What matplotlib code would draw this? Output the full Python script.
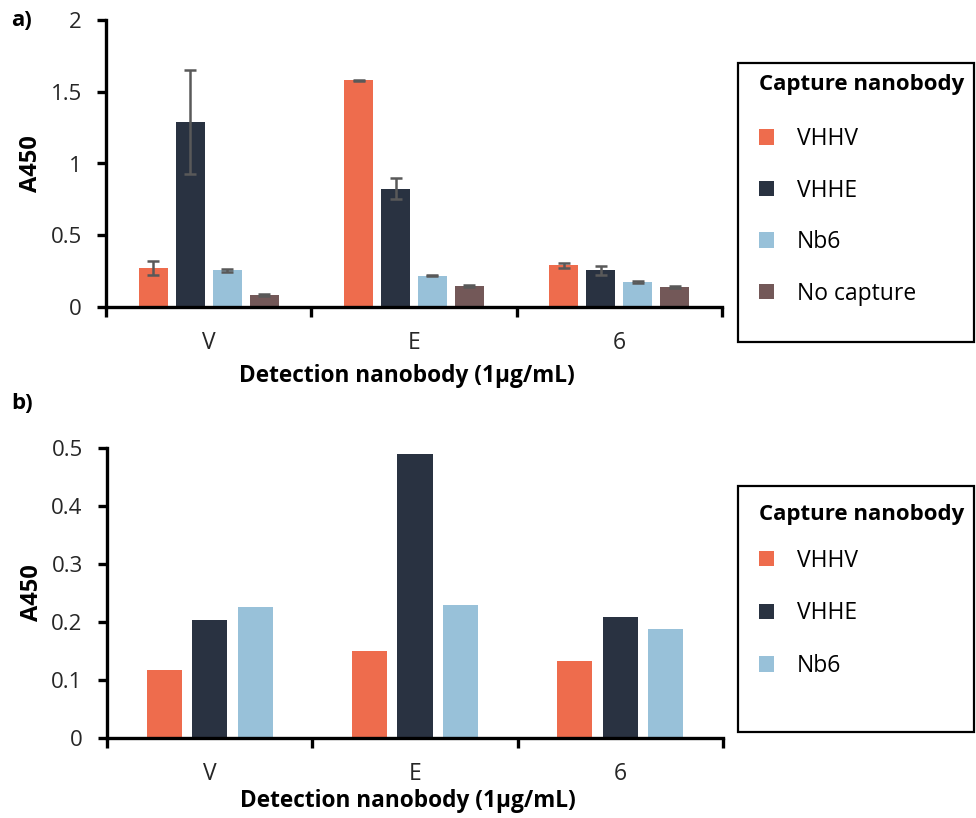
import matplotlib
matplotlib.use("Agg")
import matplotlib.pyplot as plt
import numpy as np
from matplotlib.patches import Rectangle, Patch

plt.rcParams['font.family'] = ['Open Sans', 'DejaVu Sans']

categories = ["V", "E", "6"]

# Panel a
series_a = ["VHHV", "VHHE", "Nb6", "No capture"]
vals_a = {
    "VHHV": [0.27, 1.58, 0.29],
    "VHHE": [1.29, 0.825, 0.255],
    "Nb6": [0.255, 0.218, 0.175],
    "No capture": [0.085, 0.148, 0.139],
}
err_a = {
    "VHHV": [0.05, 0.005, 0.018],
    "VHHE": [0.365, 0.073, 0.029],
    "Nb6": [0.01, 0.005, 0.008],
    "No capture": [0.005, 0.008, 0.004],
}

# Panel b
series_b = ["VHHV", "VHHE", "Nb6"]
vals_b = {
    "VHHV": [0.117, 0.150, 0.133],
    "VHHE": [0.204, 0.490, 0.208],
    "Nb6": [0.226, 0.230, 0.188],
}

colors = {"VHHV": "#EE6C4D", "VHHE": "#293241", "Nb6": "#98C1D9", "No capture": "#735858"}

W, H = 976, 818
fig = plt.figure(figsize=(W / 100, H / 100), dpi=100)

def fx(px):
    return px / W

def fy(py):
    return 1 - py / H

ax1 = fig.add_axes([fx(106), fy(307), fx(722) - fx(106), fy(20) - fy(307)])
ax2 = fig.add_axes([fx(107), fy(738), fx(723) - fx(107), fy(448) - fy(738)])

centers = np.arange(len(categories)) + 0.5

def style(ax, ymax, yticks, yticklabels, xlabel_y):
    for s in ["top", "right"]:
        ax.spines[s].set_visible(False)
    for s in ["left", "bottom"]:
        ax.spines[s].set_linewidth(2.4)
        ax.spines[s].set_color("black")
    ax.set_xlim(0, 3)
    ax.set_ylim(0, ymax)
    ax.set_yticks(yticks)
    ax.set_yticklabels(yticklabels, fontsize=16, color="#262626")
    ax.set_xticks([0, 1, 2, 3])
    ax.set_xticklabels([])
    ax.set_xticks(centers, minor=True)
    ax.set_xticklabels(categories, minor=True, fontsize=16.5, color="#262626")
    ax.tick_params(axis="x", which="major", direction="out", length=7, width=2.4, color="black")
    ax.tick_params(axis="x", which="minor", length=0, pad=17)
    ax.tick_params(axis="y", direction="out", length=6.5, width=2.4, color="black", pad=11)
    ax.set_ylabel("A450", fontsize=17, fontweight="bold", labelpad=5.5)
    ax.set_xlabel("Detection nanobody (1µg/mL)", fontsize=16.3, fontweight="bold")
    ax.xaxis.set_label_coords(0.489, xlabel_y)

# Panel a bars
step_a, w_a = 0.18, 0.141
for i, s in enumerate(series_a):
    off = (i - (len(series_a) - 1) / 2) * step_a
    ax1.bar(centers + off, vals_a[s], width=w_a, color=colors[s], zorder=2)
    ax1.errorbar(centers + off, vals_a[s], yerr=err_a[s], fmt="none",
                 ecolor="#595959", elinewidth=1.8, capsize=4.5, capthick=1.8, zorder=3)
style(ax1, 2, [0, 0.5, 1, 1.5, 2], ["0", "0.5", "1", "1.5", "2"], -0.199)

# Panel b bars
step_b, w_b = 0.222, 0.171
for i, s in enumerate(series_b):
    off = (i - (len(series_b) - 1) / 2) * step_b
    ax2.bar(centers + off, vals_b[s], width=w_b, color=colors[s], zorder=2)
style(ax2, 0.5, [0, 0.1, 0.2, 0.3, 0.4, 0.5], ["0", "0.1", "0.2", "0.3", "0.4", "0.5"], -0.176)

# Panel labels
fig.text(fx(11), fy(21), "a)", fontsize=16, fontweight="bold", va="center", ha="left")
fig.text(fx(11), fy(404), "b)", fontsize=16, fontweight="bold", va="center", ha="left")

# Legends
def legend_box(top_px, bottom_px, names, anchor_px, sep_pt, spacing):
    fig.patches.append(Rectangle((fx(738), fy(bottom_px)), fx(974) - fx(738),
                                 fy(top_px) - fy(bottom_px), transform=fig.transFigure,
                                 fill=False, edgecolor="black", linewidth=1.6))
    handles = [Patch(facecolor=colors[n], edgecolor="none") for n in names]
    leg = fig.legend(handles, names, loc="upper left",
                     bbox_to_anchor=(fx(750), fy(anchor_px)),
                     frameon=False, fontsize=16.5, title="Capture nanobody",
                     title_fontproperties={"weight": "bold", "size": 16},
                     handlelength=0.65, handleheight=0.65, handletextpad=1.0,
                     labelspacing=spacing, alignment="left", borderaxespad=0)
    leg._legend_box.sep = sep_pt
    return leg

legend_box(63, 342, series_a, 65, 23, 1.2)
legend_box(486, 732, series_b, 495, 17, 1.25)

fig.savefig("out.png", dpi=100, facecolor="white")
